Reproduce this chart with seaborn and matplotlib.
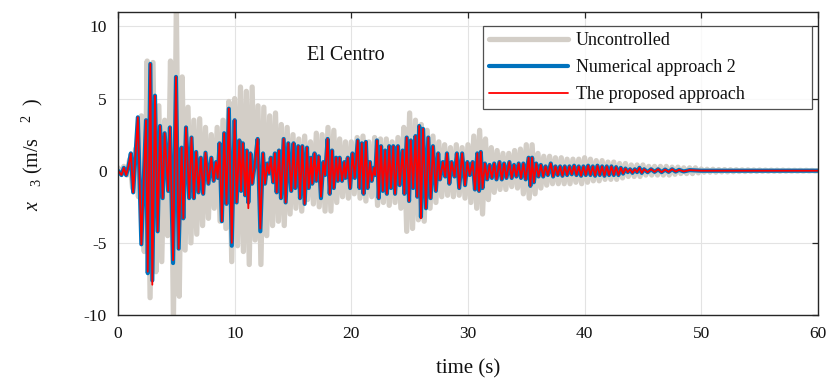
import numpy as np
import pandas as pd
import matplotlib
matplotlib.use("Agg")
import matplotlib.pyplot as plt
import seaborn as sns

# ---------------- data ----------------
# Uncontrolled response: extrema sampled every 0.25 s (0 ... 60 s)
gray_dt = 0.25
gray_values = [
    0.2, -0.2, 0.3, -0.3,      # 0
    0.8, -1.2, 1.5, -1.8,      # 1
    3.8, -5.6, 7.6, -8.8,      # 2
    7.5, -7.0, 4.5, -6.3,      # 3
    3.5, -4.5, 7.6, -10.5,     # 4
    11.5, -8.7, 6.5, -5.5,     # 5
    4.4, -5.0, 3.5, -4.4,      # 6
    3.6, -3.8, 3.0, -3.3,      # 7
    2.5, -2.6, 3.0, -3.5,      # 8
    3.5, -4.0, 4.8, -6.3,      # 9
    5.0, -5.2, 5.8, -5.6,      # 10
    5.5, -6.5, 5.8, -4.8,      # 11
    4.5, -6.5, 4.4, -4.5,      # 12
    3.8, -3.8, 4.0, -3.5,      # 13
    3.2, -3.8, 3.0, -3.0,      # 14
    2.5, -2.6, 2.2, -2.8,      # 15
    2.4, -2.0, 2.0, -2.3,      # 16
    2.6, -2.5, 2.5, -2.8,      # 17
    3.0, -2.8, 2.8, -2.2,      # 18
    2.2, -1.8, 2.0, -1.9,      # 19
    2.0, -1.6, 2.3, -1.9,      # 20
    2.4, -2.1, 2.0, -1.8,      # 21
    2.3, -2.4, 2.2, -2.2,      # 22
    2.2, -2.4, 2.0, -2.2,      # 23
    2.3, -2.6, 3.0, -4.2,      # 24
    4.0, -4.0, 3.5, -3.4,      # 25
    3.2, -3.5, 2.8, -2.6,      # 26
    2.4, -2.2, 2.0, -1.8,      # 27
    1.8, -1.7, 1.6, -1.8,      # 28
    1.8, -1.7, 1.6, -1.9,      # 29
    1.8, -2.2, 2.4, -2.6,      # 30
    2.8, -3.0, 2.2, -2.0,      # 31
    1.6, -1.5, 1.4, -1.3,      # 32
    1.2, -1.3, 1.2, -1.1,      # 33
    1.4, -1.2, 1.5, -1.6,      # 34
    1.8, -1.9, 1.8, -1.6,      # 35
    1.2, -1.2, 1.0, -1.0,      # 36
    1.0, -0.9, 0.9, -0.9,      # 37
    0.9, -0.9, 0.8, -0.9,      # 38
    0.8, -0.8, 0.8, -0.9,      # 39
    0.9, -0.8, 0.8, -0.7,      # 40
    0.7, -0.7, 0.7, -0.6,      # 41
    0.6, -0.6, 0.6, -0.6,      # 42
    0.5, -0.5, 0.5, -0.4,      # 43
    0.4, -0.4, 0.4, -0.4,      # 44
    0.4, -0.3, 0.3, -0.3,      # 45
    0.3, -0.3, 0.3, -0.3,      # 46
    0.3, -0.3, 0.25, -0.25,    # 47
    0.25, -0.2, 0.2, -0.2,     # 48
    0.2, -0.2, 0.2, -0.15,     # 49
    0.12, -0.1, 0.1, -0.1,     # 50
    0.1, -0.1, 0.08, -0.08,    # 51
    0.08, -0.08, 0.07, -0.07,  # 52
    0.07, -0.06, 0.06, -0.06,  # 53
    0.06, -0.05, 0.05, -0.05,  # 54
    0.05, -0.04, 0.04, -0.04,  # 55
    0.04, -0.04, 0.04, -0.04,  # 56
    0.04, -0.03, 0.03, -0.03,  # 57
    0.03, -0.03, 0.03, -0.03,  # 58
    0.03, -0.02, 0.02, -0.02,  # 59
    0.0,                       # 60
]
gray_time = np.arange(len(gray_values)) * gray_dt

# Controlled response (Numerical approach 2): extrema times and values
ctrl_time = [
    0, 0.3, 0.5, 0.7, 0.9, 1.1, 1.3, 1.7, 2.0, 2.4, 2.55, 2.77, 2.94, 3.17, 3.4,
    3.6, 3.83, 4.0, 4.3, 4.45, 4.72, 4.97, 5.2, 5.45, 5.6, 5.83, 6.1, 6.3, 6.5,
    6.7, 6.9, 7.1, 7.3, 7.5, 7.75, 8.0, 8.2, 8.4, 8.55, 8.7, 8.9, 9.1, 9.3, 9.5,
    9.75, 10.0, 10.17, 10.4, 10.55, 10.7, 10.9, 11.05, 11.17, 11.35, 11.5, 11.7,
    11.97, 12.2, 12.43, 12.6, 12.8, 12.95, 13.1, 13.3, 13.45, 13.6, 13.8, 13.97,
    14.2, 14.37, 14.6, 14.85, 15.05, 15.2, 15.45, 15.6, 15.8, 16.0, 16.2, 16.35,
    16.55, 16.65, 16.85, 17.0, 17.2, 17.4, 17.6, 17.75, 17.97, 18.15, 18.35,
    18.5, 18.7, 18.85, 19.0, 19.2, 19.4, 19.5, 19.7, 19.9, 20.1, 20.3, 20.55,
    20.7, 20.9, 21.05, 21.25, 21.4, 21.6, 21.75, 21.95, 22.05, 22.2, 22.35,
    22.55, 22.7, 22.9, 23.05, 23.25, 23.4, 23.6, 23.75, 24.0, 24.15, 24.4,
    24.55, 24.75, 24.95, 25.1, 25.3, 25.5, 25.65, 25.82, 25.97, 26.15, 26.4,
    26.6, 26.8, 27.0, 27.25, 27.45, 27.6, 27.85, 28.05, 28.2, 28.4, 28.6, 28.85,
    29.05, 29.25, 29.5, 29.75, 29.95, 30.15, 30.4, 30.6, 30.8, 30.95, 31.1,
    31.25, 31.45, 31.65, 31.85, 32.05, 32.25, 32.45, 32.7, 32.9, 33.1, 33.3,
    33.55, 33.75, 33.95, 34.15, 34.35, 34.55, 34.75, 34.95, 35.2, 35.35, 35.5,
    35.65, 35.85, 36.05, 36.25, 36.45, 36.65, 36.85, 37.1, 37.3, 37.5, 37.7,
    37.9, 38.1, 38.3, 38.5, 38.7, 38.9, 39.1, 39.3, 39.5, 39.7, 39.9, 40.1,
    40.3, 40.5, 40.7, 40.9, 41.1, 41.3, 41.5, 41.7, 41.9, 42.1, 42.3, 42.5,
    42.7, 42.9, 43.1, 43.3, 43.5, 43.7, 43.9, 44.1, 44.3, 44.5, 44.7, 44.9,
    45.1, 45.4, 45.7, 46.0, 46.3, 46.6, 46.9, 47.2, 47.5, 47.8, 48.1, 48.5,
    49.0, 50.0, 60.0,
]
numerical_values = [
    0, -0.3, 0.2, -0.3, 0.3, 1.2, -1.5, 3.7, -5.1, 3.5, -7.1, 7.4, -7.6, 5.2, -4.2,
    3.1, -1.9, 2.6, -1.4, 3.0, -6.4, 6.5, -5.4, 1.6, -3.3, 3.0, -1.9, 2.3, -1.9,
    1.3, -1.5, 0.9, -1.6, 1.25, -0.9, 0.9, -0.7, 0.6, -0.5, 1.9, -3.5, 2.6, -2.3, 4.3,
    -5.2, 3.5, -2.2, 2.1, -1.4, 1.9, -1.7, 1.4, -2.2, 1.2, -0.9, 0.3,
    2.2, -4.2, 1.2, -0.9, 0.5, -0.2, 0.9, -0.8, 1.2, -1.5, 1.4, -1.9,
    2.2, -2.2, 1.9, -1.4, 1.9, -1.2, 1.7, -1.9, 1.7, -2.3, 1.6, -1.2,
    0.9, -0.9, 1.2, -0.7, 1.0, -1.9, 0.6, -0.3, 2.2, -1.6, 1.4,
    -1.2, 0.9, -0.7, 0.9, -0.7, 0.6, -0.5, 0.9, -1.2, 1.2, -0.5, 2.1,
    -1.2, 1.9, -1.6, 2.0, -1.2, 0.6, -0.7, 0.2, -0.3, 2.1, -1.9,
    1.7, -1.4, 1.4, -1.6, 1.7, -1.2, 1.7, -1.6, 1.7, -1.0, 1.4,
    -1.6, 2.3, -2.1, 2.1, -1.2, 2.4, -1.8, 3.1, -3.2, 2.9, -2.6,
    2.3, -1.9, 1.7, -1.4, 1.2, -0.6, 0.6, -0.4, 1.2, -0.9, 0.6, -0.4,
    1.2, -1.2, 1.2, -1.0, 0.6, -0.3, 0.6, -1.3, 1.2, -1.4, 1.3,
    -1.2, 0.5, -0.6, 0.4, -0.5, 0.5, -0.6, 0.6, -0.6, 0.5, -0.5,
    0.6, -0.5, 0.4, -0.4, 0.5, -0.5, 0.5, -0.6, 0.9, -1.05, 0.9,
    -0.8, 0.5, -0.4, 0.4, -0.4, 0.3, -0.3, 0.5, -0.4, 0.3, -0.3,
    0.3, -0.35, 0.3, -0.3, 0.3, -0.25, 0.35, -0.3, 0.3, -0.35, 0.3, -0.3,
    0.35, -0.3, 0.3, -0.35, 0.35, -0.3, 0.3, -0.35, 0.3, -0.3, 0.3, -0.3,
    0.25, -0.3, 0.2, -0.2, 0.15, -0.1, 0.1, -0.15, 0.1, -0.1, 0.2, -0.15,
    0.1, -0.1, 0.1, -0.08, 0.1, -0.1, 0.08, -0.08, 0.1, -0.06, 0.06, -0.05,
    0.04, 0.0, 0.0,
]
# The proposed approach: same extrema times; values that differ from approach 2
proposed_overrides = {2.94: -7.9, 11.17: -2.6, 2.55: -7.0, 4.72: -6.2, 9.75: -5.0,
                      17.4: -1.8, 25.97: -3.3, 12.2: -4.0}
proposed_values = [proposed_overrides.get(t, v) for t, v in zip(ctrl_time, numerical_values)]

series_labels = ["Uncontrolled", "Numerical approach 2", "The proposed approach"]
x_ticks = [0, 10, 20, 30, 40, 50, 60]
y_ticks = [-10, -5, 0, 5, 10]

# ---------------- plotting ----------------
sns.set_theme(style="white")
plt.rcParams["font.family"] = ["Liberation Serif", "DejaVu Serif"]
plt.rcParams["mathtext.fontset"] = "custom"
plt.rcParams["mathtext.rm"] = "Liberation Serif"
plt.rcParams["mathtext.it"] = "Liberation Serif:italic"
plt.rcParams["axes.unicode_minus"] = False

fig = plt.figure(figsize=(8.27, 3.83), dpi=100)
ax = fig.add_axes([0.1427, 0.1775, 0.8463, 0.7912])

df_gray = pd.DataFrame({"t": gray_time, "v": gray_values})
df_num = pd.DataFrame({"t": ctrl_time, "v": numerical_values})
df_prop = pd.DataFrame({"t": ctrl_time, "v": proposed_values})

sns.lineplot(data=df_gray, x="t", y="v", ax=ax, color="#D3CEC7", lw=3.8,
             estimator=None, sort=False, label=series_labels[0])
sns.lineplot(data=df_num, x="t", y="v", ax=ax, color="#0072BD", lw=3.0,
             estimator=None, sort=False, label=series_labels[1])
sns.lineplot(data=df_prop, x="t", y="v", ax=ax, color="#FF0000", lw=1.3,
             estimator=None, sort=False, label=series_labels[2])

ax.set_xlim(0, 60)
ax.set_ylim(-10, 11)
ax.set_xticks(x_ticks)
ax.set_yticks(y_ticks)
ax.grid(True, color="#E3E3E3", lw=0.8)
ax.set_axisbelow(True)
for s in ax.spines.values():
    s.set_color("#262626")
    s.set_linewidth(1.0)
ax.tick_params(direction="in", length=4, width=0.9, color="#262626",
               top=True, right=True, labelsize=12.5, labelcolor="#111111", pad=8)

ax.set_xlabel("time (s)", fontsize=15, color="#111111", labelpad=12)
ax.set_ylabel(r"$x$   $_{3}$ (m/s   $^{2}$  )", fontsize=14.5, color="#111111")
ax.yaxis.set_label_coords(-0.105, 0.53)

ax.text(19.5, 8.0, "El Centro", fontsize=14.5, ha="center", va="center", color="#111111")

leg = ax.legend(loc="upper left", bbox_to_anchor=(0.521, 0.647, 0.47, 0.307),
                mode="expand", fontsize=13,
                handlelength=4.4, handletextpad=0.4, labelspacing=0.55,
                frameon=True, fancybox=False, borderpad=0.35, borderaxespad=0)
leg.get_frame().set_edgecolor("#262626")
leg.get_frame().set_linewidth(0.9)
for txt in leg.get_texts():
    txt.set_color("#111111")

fig.savefig("out.png", dpi=100)
